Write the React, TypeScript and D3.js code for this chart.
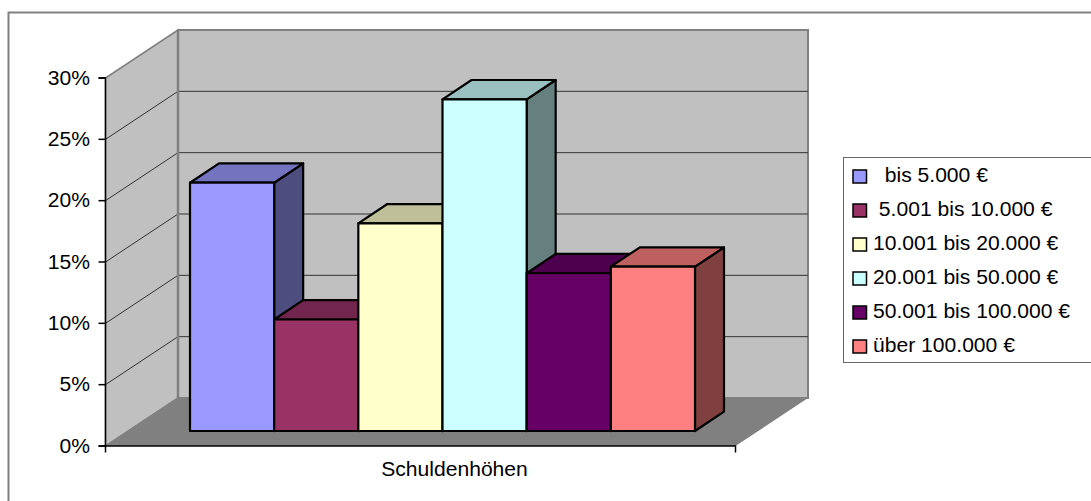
import React, {useEffect, useRef} from 'react';
import * as d3 from "d3";

const categories = ["Schuldenhöhen"];
const seriesNames = [
    "  bis 5.000 €",
    " 5.001 bis 10.000 €",
    "10.001 bis 20.000 €",
    "20.001 bis 50.000 €",
    "50.001 bis 100.000 €",
    "über 100.000 €"
];
const seriesValues = [0.2024, 0.0909, 0.1693, 0.2704, 0.1286, 0.134];
const seriesColors = ["#9999ff", "#993366", "#ffffcc", "#ccffff", "#660066", "#ff8080"];
const tickValues = [0, 0.05, 0.1, 0.15, 0.2, 0.25, 0.3];

const font = "'Liberation Sans', Arial, sans-serif";
const fontSize = 21.1;
const wallDepth = {dx: 72.5, dy: -48};
const barDepth = {dx: 29, dy: -19.3};
const barLift = 15; //bars stand a bit behind the front edge of the floor

function shade(color: string, k: number) {
    const c = d3.rgb(color);
    return d3.rgb(c.r * k, c.g * k, c.b * k).formatHex();
}

export default function App() {
    const ref = useRef<SVGSVGElement>(null);

    useEffect(() => {
        const svg = d3.select(ref.current);
        svg.selectAll("*").remove();

        const yScale = d3.scaleLinear().domain([0, 0.3]).range([446, 78]);
        const xScale = d3.scaleBand().domain(categories).range([105.5, 735.5]);
        const barScale = d3.scaleBand().domain(seriesNames).range([190, 695]);
        const [x0, x1] = xScale.range();
        const y0 = yScale(0);
        const yTop = yScale(0.3);
        const line = d3.line();

        //outer frame, runs off the right and bottom of the picture
        svg.append("path")
            .attr("d", "M 8.5 501 V 12.5 H 1091")
            .attr("fill", "none")
            .attr("stroke", "#808080")
            .attr("stroke-width", 2);

        //walls and floor
        svg.append("rect")
            .attr("x", x0 + wallDepth.dx)
            .attr("y", yTop + wallDepth.dy)
            .attr("width", x1 - x0)
            .attr("height", y0 - yTop)
            .attr("fill", "#c0c0c0")
            .attr("stroke", "#808080")
            .attr("stroke-width", 2);

        svg.append("path")
            .attr("d", line([
                [x0, y0], [x0, yTop],
                [x0 + wallDepth.dx, yTop + wallDepth.dy],
                [x0 + wallDepth.dx, y0 + wallDepth.dy]
            ]) + "Z")
            .attr("fill", "#c0c0c0")
            .attr("stroke", "#808080")
            .attr("stroke-width", 1.5);

        svg.append("path")
            .attr("d", line([
                [x0, y0], [x1, y0],
                [x1 + wallDepth.dx, y0 + wallDepth.dy],
                [x0 + wallDepth.dx, y0 + wallDepth.dy]
            ]) + "Z")
            .attr("fill", "#808080");

        //gridlines on side wall and back wall
        svg.append("g").selectAll("path")
            .data(tickValues.filter(t => t > 0 && t < 0.3))
            .join("path")
            .attr("d", t => line([
                [x0, yScale(t)],
                [x0 + wallDepth.dx, yScale(t) + wallDepth.dy],
                [x1 + wallDepth.dx, yScale(t) + wallDepth.dy]
            ]))
            .attr("fill", "none")
            .attr("stroke", "#333333")
            .attr("stroke-width", 1);

        //wall edge on top of the gridlines
        svg.append("line")
            .attr("x1", x0 + wallDepth.dx)
            .attr("x2", x0 + wallDepth.dx)
            .attr("y1", yTop + wallDepth.dy)
            .attr("y2", y0 + wallDepth.dy)
            .attr("stroke", "#808080")
            .attr("stroke-width", 2.5);

        //bars, left to right so that later ones sit over earlier ones
        const bars = svg.append("g")
            .attr("stroke", "#000000")
            .attr("stroke-width", 2.2)
            .attr("stroke-linejoin", "round");

        seriesNames.forEach((name, i) => {
            const left = barScale(name) as number;
            const right = left + barScale.bandwidth();
            const bottom = y0 - barLift;
            const top = yScale(seriesValues[i]) - barLift;
            const color = seriesColors[i];
            const {dx, dy} = barDepth;

            bars.append("path")
                .attr("d", line([[right, top], [right + dx, top + dy], [right + dx, bottom + dy], [right, bottom]]) + "Z")
                .attr("fill", shade(color, 0.5));
            bars.append("path")
                .attr("d", line([[left, top], [left + dx, top + dy], [right + dx, top + dy], [right, top]]) + "Z")
                .attr("fill", shade(color, 0.75));
            bars.append("rect")
                .attr("x", left)
                .attr("y", top)
                .attr("width", right - left)
                .attr("height", bottom - top)
                .attr("fill", color);
        });

        //axes
        const yAxis = svg.append("g")
            .attr("transform", `translate(${x0},0)`)
            .call(d3.axisLeft(yScale)
                .tickValues(tickValues)
                .tickFormat(d3.format(".0%") as any)
                .tickSize(7)
                .tickPadding(8.5)
                .offset(0));
        yAxis.select(".domain").attr("stroke", "#000000").attr("stroke-width", 1.5);
        yAxis.selectAll(".tick line").attr("stroke", "#000000").attr("stroke-width", 1.5);
        yAxis.selectAll(".tick text")
            .attr("font-family", font)
            .attr("font-size", fontSize)
            .attr("fill", "#000000");

        const xAxis = svg.append("g")
            .attr("transform", `translate(0,${y0})`)
            .call(d3.axisBottom(xScale)
                .tickSizeInner(0)
                .tickSizeOuter(6.5)
                .tickPadding(15)
                .offset(0));
        xAxis.select(".domain").attr("stroke", "#000000").attr("stroke-width", 1.5);
        xAxis.selectAll(".tick line").remove();
        xAxis.selectAll(".tick text")
            .attr("x", 34)
            .attr("font-family", font)
            .attr("font-size", fontSize)
            .attr("fill", "#000000");

        //legend
        const legend = svg.append("g");
        legend.append("rect")
            .attr("x", 843.5)
            .attr("y", 157.5)
            .attr("width", 260)
            .attr("height", 205)
            .attr("fill", "#ffffff")
            .attr("stroke", "#666666")
            .attr("stroke-width", 1);

        const rowScale = d3.scalePoint().domain(seriesNames).range([176.5, 346.5]);
        const rows = legend.selectAll("g")
            .data(seriesNames)
            .join("g")
            .attr("transform", d => `translate(853,${rowScale(d)})`);
        rows.append("rect")
            .attr("x", 0)
            .attr("y", -6.5)
            .attr("width", 13.5)
            .attr("height", 13)
            .attr("fill", (d, i) => seriesColors[i])
            .attr("stroke", "#000000")
            .attr("stroke-width", 1.5);
        rows.append("text")
            .attr("x", 20)
            .attr("y", 5.5)
            .attr("font-family", font)
            .attr("font-size", fontSize)
            .attr("fill", "#000000")
            .style("white-space", "pre")
            .text(d => d);
    }, []);

    return (
        <svg ref={ref} width={1091} height={501}
             style={{position: "absolute", left: 0, top: 0, background: "#ffffff"}}/>
    );
}
